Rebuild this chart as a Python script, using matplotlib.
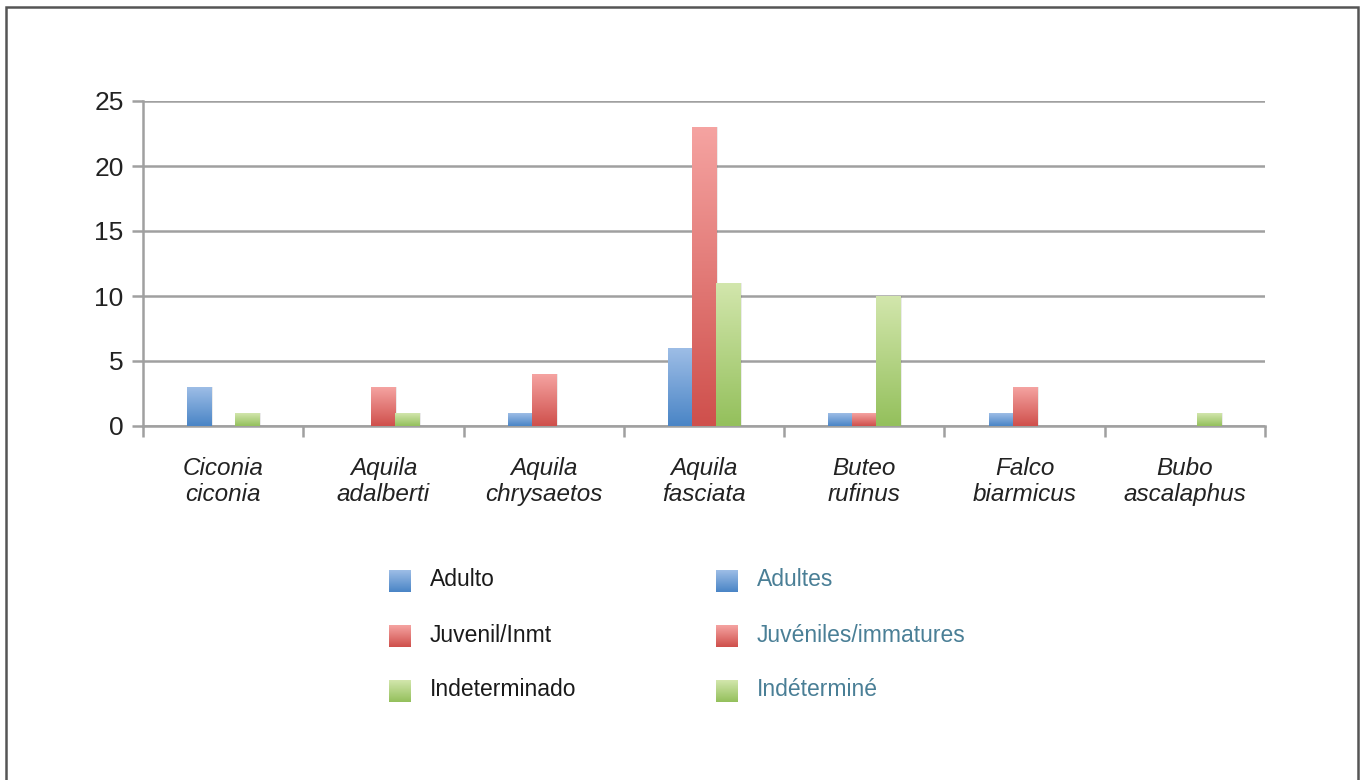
import numpy as np
import matplotlib.pyplot as plt
from matplotlib.colors import LinearSegmentedColormap
from matplotlib.patches import Rectangle

species = ["Ciconia\nciconia", "Aquila\nadalberti", "Aquila\nchrysaetos",
           "Aquila\nfasciata", "Buteo\nrufinus", "Falco\nbiarmicus", "Bubo\nascalaphus"]
adulto = [3, 0, 1, 6, 1, 1, 0]
juvenil = [0, 3, 4, 23, 1, 3, 0]
indeterminado = [1, 1, 0, 11, 10, 0, 1]

labels_es = ["Adulto", "Juvenil/Inmt", "Indeterminado"]
labels_fr = ["Adultes", "Juvéniles/immatures", "Indéterminé"]

# (top colour, bottom colour) for the gradient fill
grads = [("#9dbde6", "#4a85c6"), ("#f5a3a1", "#cf504c"), ("#d2e6ac", "#94c05c")]

plt.rcParams['font.family'] = ['Liberation Sans', 'DejaVu Sans']

fig = plt.figure(figsize=(13.63, 7.80), dpi=100)
ax = fig.add_axes([143 / 1363, 1 - 426 / 780, 1122 / 1363, 325 / 780])

# outer frame
fig.patches.append(Rectangle((6 / 1363, -0.01), 1352 / 1363, 1 - 7 / 780 + 0.01,
                             transform=fig.transFigure, fill=False,
                             edgecolor="#555555", linewidth=1.8))

x = np.arange(len(species))
w = 0.15
series = [adulto, juvenil, indeterminado]
ax.set_xlim(-0.5, len(species) - 0.5)
ax.set_ylim(0, 25)

for i, (vals, (ctop, cbot)) in enumerate(zip(series, grads)):
    cmap = LinearSegmentedColormap.from_list("g%d" % i, [cbot, ctop])
    bars = ax.bar(x + (i - 1) * w, vals, width=w, color="none", zorder=3)
    for b in bars:
        h = b.get_height()
        if h <= 0:
            continue
        x0 = b.get_x()
        # soft shadow
        ax.add_patch(Rectangle((x0 + 0.012, 0), w, h, facecolor="#000000",
                               alpha=0.08, edgecolor="none", zorder=2))
        grad = np.linspace(0, 1, 100).reshape(-1, 1)
        ax.imshow(grad, cmap=cmap, origin="lower", aspect="auto",
                  extent=(x0, x0 + w, 0, h), zorder=3, interpolation="bilinear")

ax.set_xlim(-0.5, len(species) - 0.5)
ax.set_ylim(0, 25)

ax.set_yticks(range(0, 26, 5))
ax.yaxis.grid(True, color="#a0a0a0", linewidth=1.8)
ax.set_axisbelow(True)
ax.set_xticks(np.arange(-0.5, len(species)), minor=False)
ax.set_xticklabels([])
ax.set_xticks(x, minor=True)
ax.set_xticklabels(species, minor=True, fontstyle="italic", fontsize=17.5,
                   color="#222222", linespacing=1.2)
ax.tick_params(axis="x", which="minor", length=0, pad=22)
ax.tick_params(axis="x", which="major", length=8, width=1.8, color="#a0a0a0")
ax.tick_params(axis="y", length=8, width=1.8, color="#a0a0a0", labelsize=19,
               labelcolor="#222222", pad=6)
for s in ["top", "right"]:
    ax.spines[s].set_visible(False)
ax.spines["left"].set_color("#a0a0a0")
ax.spines["left"].set_linewidth(1.8)
ax.spines["bottom"].set_color("#a0a0a0")
ax.spines["bottom"].set_linewidth(1.8)

# legend drawn as two columns
rows_y = [580, 635, 690]
for col, (labs, mx, tcol) in enumerate([(labels_es, 400, "#1a1a1a"),
                                         (labels_fr, 727, "#4a7f96")]):
    for (ctop, cbot), lab, yy in zip(grads, labs, rows_y):
        cmap = LinearSegmentedColormap.from_list("lg", [cbot, ctop])
        lax = fig.add_axes([(mx - 11) / 1363, 1 - (yy + 12) / 780, 22 / 1363, 22 / 780])
        lax.imshow(np.linspace(0, 1, 50).reshape(-1, 1), cmap=cmap, origin="lower",
                   aspect="auto")
        lax.axis("off")
        fig.text((mx + 30) / 1363, 1 - yy / 780, lab, fontsize=16.5, color=tcol,
                 va="center", ha="left")

fig.savefig("out.png", dpi=100)
